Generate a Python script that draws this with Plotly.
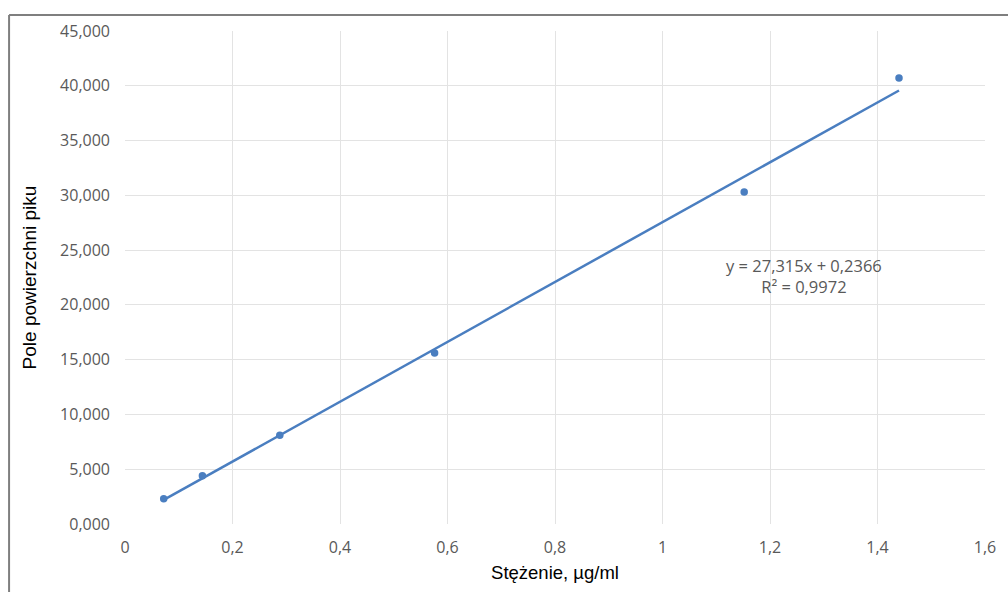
import plotly.graph_objects as go

# Data
conc = [0.072, 0.144, 0.288, 0.576, 1.152, 1.44]
area = [2.3, 4.4, 8.1, 15.6, 30.3, 40.7]
slope = 27.315
intercept = 0.2366
trend_x = [min(conc), max(conc)]
trend_y = [slope * x + intercept for x in trend_x]
eq_text = "y = 27,315x + 0,2366<br>R² = 0,9972"

blue = "#4A7EC0"
tick_color = "#595959"
grid_color = "#E3E3E3"

fig = go.Figure()
fig.add_trace(go.Scatter(x=trend_x, y=trend_y, mode="lines",
                         line=dict(color=blue, width=2.5), hoverinfo="skip",
                         showlegend=False))
fig.add_trace(go.Scatter(x=conc, y=area, mode="markers",
                         marker=dict(color=blue, size=7.5), showlegend=False))

fig.add_annotation(x=1.263, y=22.6, xref="x", yref="y", text=eq_text,
                   showarrow=False, align="center",
                   font=dict(family="Open Sans", size=16.5, color=tick_color))

# outer frame lines (top and left)
fig.add_shape(type="line", xref="paper", yref="paper",
              x0=-0.1348, x1=1.03, y0=1.0323, y1=1.0323,
              line=dict(color="#7F7F7F", width=2))
fig.add_shape(type="line", xref="paper", yref="paper",
              x0=-0.1348, x1=-0.1348, y0=-0.14, y1=1.0323,
              line=dict(color="#7F7F7F", width=2))

fig.update_layout(
    width=1008, height=592,
    margin=dict(l=125, r=15, t=31, b=66),
    paper_bgcolor="white", plot_bgcolor="white",
    separators=", ",
    xaxis=dict(range=[0, 1.6], dtick=0.2, tick0=0, showgrid=True,
               gridcolor=grid_color, gridwidth=1, zeroline=False,
               showline=False, ticks="", ticklabelstandoff=12,
               tickfont=dict(family="Open Sans", size=16, color=tick_color),
               title=dict(text="Stężenie, µg/ml", standoff=9,
                          font=dict(family="Liberation Sans", size=18.5, color="#000000"))),
    yaxis=dict(range=[0, 45], dtick=5, tick0=0, tickformat=".3f",
               showgrid=True, gridcolor=grid_color, gridwidth=1,
               zeroline=False, showline=False, ticks="", ticklabelstandoff=14,
               tickfont=dict(family="Open Sans", size=16, color=tick_color),
               title=dict(text="Pole powierzchni piku", standoff=18,
                          font=dict(family="Liberation Sans", size=19, color="#000000"))),
)

fig.write_html(
    "out.html",
    config={"displayModeBar": False},
    post_script="document.body.style.margin='0';document.body.style.overflow='hidden';",
)
